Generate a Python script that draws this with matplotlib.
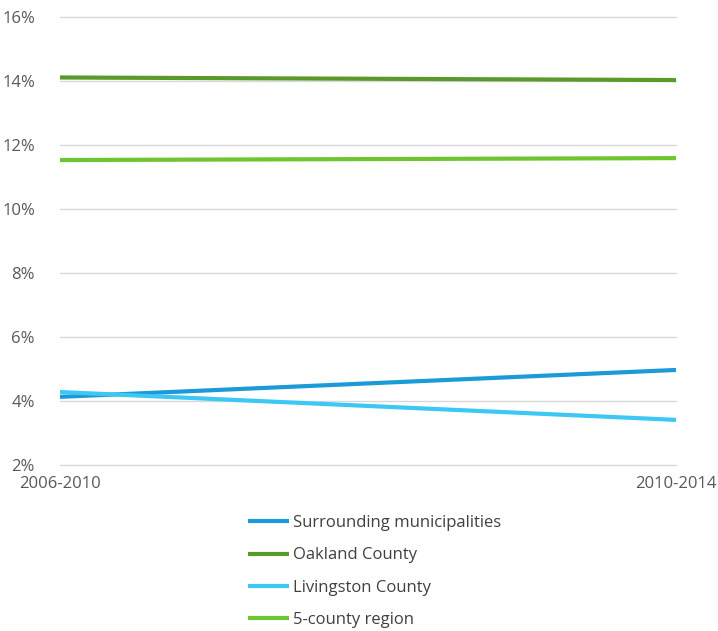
import matplotlib.pyplot as plt
from matplotlib.ticker import FuncFormatter

# periods on the x axis
periods = ["2006-2010", "2010-2014"]

# share values (%)
surrounding = [4.13, 4.97]
oakland = [14.11, 14.03]
livingston = [4.28, 3.41]
five_county = [11.53, 11.59]

series_names = ["Surrounding municipalities", "Oakland County",
                "Livingston County", "5-county region"]
series_colors = ["#1A9BD7", "#5A9A2B", "#3DC7F4", "#6FC52F"]

plt.rcParams['font.family'] = ['Open Sans', 'DejaVu Sans']

fig = plt.figure(figsize=(7.18, 6.31), dpi=100)
ax = fig.add_axes([60 / 718, 1 - 465 / 631, 616 / 718, 448 / 631])

x = list(range(len(periods)))
for vals, name, col in zip([surrounding, oakland, livingston, five_county],
                           series_names, series_colors):
    ax.plot(x, vals, color=col, linewidth=3.0, label=name, solid_capstyle='butt')

ax.set_xlim(0, 1)
ax.set_ylim(2, 16)
ax.set_yticks(range(2, 17, 2))
ax.yaxis.set_major_formatter(FuncFormatter(lambda v, p: f"{int(v)}%"))
ax.set_xticks(x)
ax.set_xticklabels(periods)
ax.grid(axis='y', color='#D9D9D9', linewidth=1)
for gl in ax.get_ygridlines():
    gl.set_clip_on(False)
ax.set_axisbelow(True)
for s in ax.spines.values():
    s.set_visible(False)
ax.tick_params(length=0, labelsize=12, colors='#595959')
ax.tick_params(axis='y', pad=18)
ax.tick_params(axis='x', pad=8)

fig.legend(loc='upper left', bbox_to_anchor=(233 / 718, 1 - 500 / 631),
           frameon=False, fontsize=12, handlelength=2.45, handletextpad=0.25,
           labelspacing=0.98, labelcolor='#404040')

fig.savefig("out.png", dpi=100)
